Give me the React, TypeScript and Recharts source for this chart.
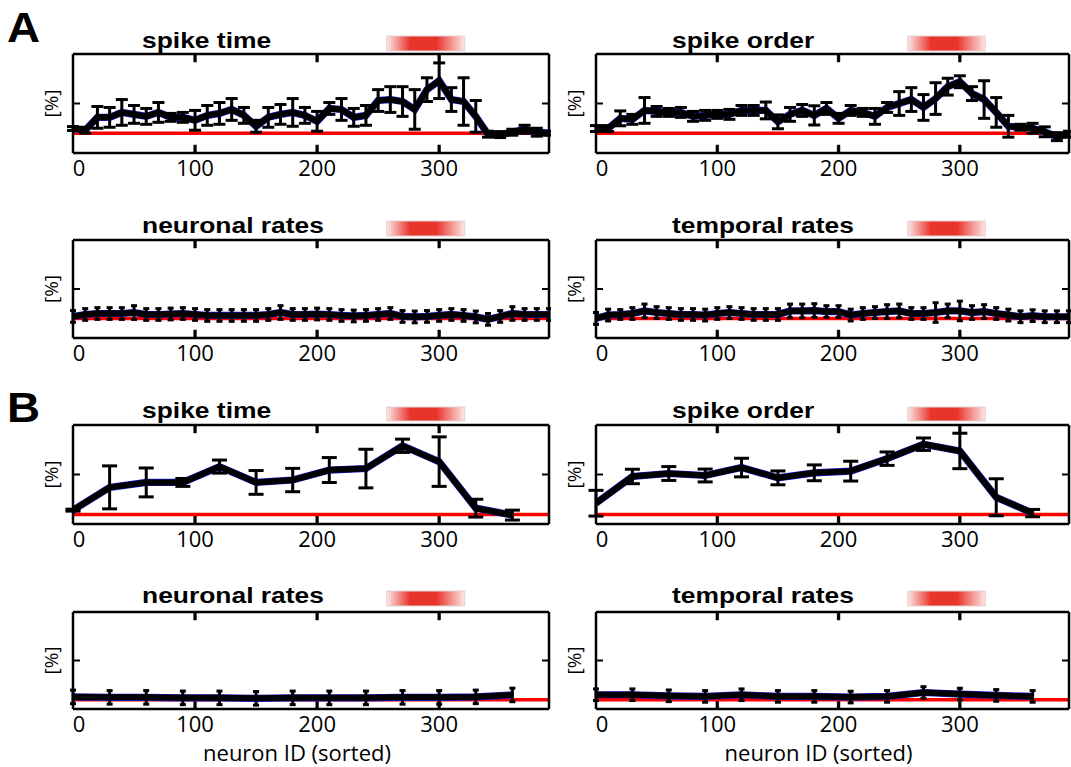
import React from 'react';
import { LineChart, Line, XAxis, YAxis, ErrorBar, ReferenceLine, ReferenceArea } from 'recharts';

// neuron IDs (sorted) where the curves are sampled
const idsA = [0, 10, 20, 30, 40, 50, 60, 70, 80, 90, 100, 110, 120, 130, 140, 150, 160, 170, 180, 190,
  200, 210, 220, 230, 240, 250, 260, 270, 280, 290, 300, 310, 320, 330, 340, 350, 360, 370, 380, 390];
const idsB = [0, 30, 60, 90, 120, 150, 180, 210, 240, 270, 300, 330, 360];

// A: spike time
const aSpikeTime = [24.7, 23, 36, 36, 41, 39, 37, 41, 36, 36, 33, 38, 40, 44, 38, 27, 36, 39, 41, 38,
  32, 45, 44, 36, 38, 53, 54, 52, 44, 64, 73, 54, 52, 37, 19, 18.6, 21, 24, 21, 20];
const aSpikeTimeErr = [2, 3, 11, 10, 13, 9, 8, 10, 4, 5, 10, 10, 11, 11, 8, 6, 10, 10, 14, 8,
  10, 6, 11, 9, 10, 11, 13, 15, 20, 12, 18, 12, 24, 16, 3, 3, 3, 4, 4, 2];

// A: spike order
const aSpikeOrder = [24.7, 24.7, 35, 34, 43, 42, 41, 41, 37, 38, 39, 39, 43, 43, 43, 31.5, 39, 43, 38, 45,
  35, 43, 41, 37, 46, 50, 54, 46, 55, 67, 72, 60, 54, 41, 27, 26, 25, 21.4, 16.5, 19];
const aSpikeOrderErr = [3, 3, 7.5, 5, 13, 5, 4, 5, 5, 5, 4, 5, 5, 5, 8.5, 7, 7, 6, 9.7, 6,
  5, 5, 4, 8, 5, 12, 12, 13, 16, 8.5, 6, 7, 19, 15, 11, 3, 5, 5, 4, 3];

// A: neuronal rates
const aNeuronal = [22, 24, 25, 25, 25, 26, 24, 24, 24.5, 25, 24, 23, 23, 23, 23, 23, 24, 26, 24, 24,
  24.5, 24, 23, 22.5, 23, 24, 25, 22, 21.5, 22, 23, 24, 23, 21.5, 19, 22, 25, 24, 24, 24];
const aNeuronalErr = [6, 6, 6, 6, 6, 7, 6, 6, 6, 6, 6, 6, 6, 6, 6, 6, 6, 7, 6, 6,
  6, 6, 6, 6, 6, 6, 6, 6, 6, 6, 6, 6, 6, 6, 6, 6, 7, 6, 6, 6];

// A: temporal rates
const aTemporal = [20, 23.4, 24, 25, 27.6, 26, 25, 24, 24, 23.4, 25, 26, 25, 24, 24, 24, 27.6, 27.6, 28, 27,
  27, 23.4, 25, 26, 27, 27.6, 25, 25, 26, 27.6, 27.6, 26, 27, 25, 23.4, 21.7, 22.8, 21.7, 21.7, 21.7];
const aTemporalErr = [6, 6, 5, 6, 7, 6, 6, 6, 6, 6, 6, 6, 6, 6, 6, 6, 7, 7, 7, 6,
  6, 6, 6, 6, 7, 7, 6, 6, 10, 7, 10, 7, 7, 6, 6, 6, 6, 6, 6, 6];

// B: spike time
const bSpikeTime = [14, 37, 42, 42, 58, 42, 44.4, 54.5, 56, 79, 63, 16, 9];
const bSpikeTimeErr = [1, 21.7, 14.6, 4, 6.6, 12, 11.8, 12.6, 19.5, 6.7, 25, 9, 5];

// B: spike order
const bSpikeOrder = [21, 48, 51, 49, 57, 46.6, 51.7, 53.4, 66, 80.6, 73.8, 27, 11];
const bSpikeOrderErr = [13, 7.3, 7, 6.5, 9.4, 7, 8, 10, 6.8, 6.3, 17.9, 18.7, 3.7];

// B: neuronal rates
const bNeuronal = [12.5, 12, 12, 11.5, 11.5, 11, 11.5, 11.5, 11.5, 12, 12, 12.5, 14.5];
const bNeuronalErr = [7, 7, 7, 7, 7, 7, 7, 7, 7, 7, 7, 7, 7];

// B: temporal rates
const bTemporal = [14.7, 14.7, 13.6, 13, 14.7, 13, 13, 12.3, 13, 17, 15.4, 14, 13];
const bTemporalErr = [6, 6, 6, 6, 6, 6, 6, 6, 6, 6, 6, 6, 6];

const chanceA = 20;
const chanceB = 9.5;
const stimWindow = [257, 321];
const xTicks = [0, 100, 200, 300];
const xTicksInner = [100, 200, 300];
const yTicks = [50];

const AXIS_W = 40;
const MT = 25; // + 1px top axis band
const MR = 1; // + 1px right axis band
const TICK_LEN = 8;
const TICK_HALF = 1.1; // half tick thickness, in x units

const colLeft = [73, 596];
const colWidth = [476, 473];
const titleLeft = [142, 672];
const rows = [
  { top: 54, h: 99, bar: [3, 18], titleTop: 30 },
  { top: 240, h: 98, bar: [4, 19], titleTop: 215 },
  { top: 425, h: 99, bar: [4, 18], titleTop: 400 },
  { top: 612, h: 97, bar: [6, 21], titleTop: 585 },
];

const renderTick = (p: any) => (
  <text
    x={p.x + (p.payload.value === 0 ? 6 : 0)}
    y={p.y}
    dy="0.71em"
    textAnchor="middle"
    fontFamily="'Open Sans'"
    fontSize={22}
    fill="#000"
  >
    {p.payload.value}
  </text>
);
const noLabel = () => <g />;

const frame = { stroke: '#000', strokeWidth: 2.5 };
const tickStroke = { stroke: '#000', strokeWidth: 2 };

type PanelProps = {
  id: string;
  title: string;
  col: number;
  row: number;
  ids: number[];
  values: number[];
  errors: number[];
  chance: number;
  cap: number;
  xLabel?: boolean;
};

const Panel: React.FC<PanelProps> = ({ id, title, col, row, ids, values, errors, chance, cap, xLabel }) => {
  const r = rows[row];
  const plotW = colWidth[col];
  const xAxisH = xLabel ? 64 : 34;
  const width = AXIS_W + plotW + 1 + MR;
  const height = MT + 1 + r.h + xAxisH;
  const data = ids.map((n, i) => ({ id: n, v: values[i], e: errors[i] }));
  const unit = 100 / r.h;

  return (
    <>
      <div style={{ position: 'absolute', left: colLeft[col] - AXIS_W, top: r.top - MT - 1 }}>
        <LineChart width={width} height={height} data={data} margin={{ top: MT, right: MR, left: 0, bottom: 0 }}>
          <defs>
            <linearGradient id={id} x1="0" y1="0" x2="1" y2="0">
              <stop offset="0%" stopColor="#e8352b" stopOpacity={0.12} />
              <stop offset="30%" stopColor="#e8352b" stopOpacity={1} />
              <stop offset="64%" stopColor="#e8352b" stopOpacity={1} />
              <stop offset="100%" stopColor="#e8352b" stopOpacity={0.12} />
            </linearGradient>
          </defs>
          <XAxis
            xAxisId="b"
            dataKey="id"
            type="number"
            domain={[0, 390]}
            allowDataOverflow
            ticks={xTicks}
            interval={0}
            tickSize={-7}
            tickMargin={14.5}
            height={xAxisH}
            axisLine={frame}
            tickLine={tickStroke}
            tick={renderTick}
            label={
              xLabel
                ? { value: 'neuron ID (sorted)', position: 'insideBottom', offset: 12, dx: -14, fontFamily: "'Open Sans'", fontSize: 22, fill: '#000' }
                : undefined
            }
          />
          <XAxis
            xAxisId="t"
            dataKey="id"
            orientation="top"
            type="number"
            domain={[0, 390]}
            allowDataOverflow
            ticks={xTicksInner}
            interval={0}
            tickSize={-7}
            height={1}
            tick={noLabel}
            axisLine={frame}
            tickLine={tickStroke}
          />
          <YAxis
            yAxisId="l"
            type="number"
            domain={[0, 100]}
            allowDataOverflow
            ticks={yTicks}
            interval={0}
            tickSize={-7}
            width={AXIS_W}
            tick={noLabel}
            axisLine={frame}
            tickLine={tickStroke}
            label={{ value: '[%]', angle: -90, position: 'center', dx: -2, fontFamily: "'Open Sans'", fontSize: 19, fill: '#000' }}
          />
          <YAxis
            yAxisId="r"
            orientation="right"
            type="number"
            domain={[0, 100]}
            allowDataOverflow
            ticks={yTicks}
            interval={0}
            tickSize={-7}
            width={1}
            tick={noLabel}
            axisLine={frame}
            tickLine={tickStroke}
          />
          {/* inward x ticks on the bottom and top frame */}
          {xTicksInner.map((t) => (
            <ReferenceArea
              key={`b${t}`}
              xAxisId="b"
              yAxisId="l"
              x1={t - TICK_HALF}
              x2={t + TICK_HALF}
              y1={0}
              y2={TICK_LEN * unit}
              ifOverflow="visible"
              fill="#000"
              fillOpacity={1}
              stroke="#000"
              strokeWidth={0.5}
            />
          ))}
          {xTicksInner.map((t) => (
            <ReferenceArea
              key={`t${t}`}
              xAxisId="b"
              yAxisId="l"
              x1={t - TICK_HALF}
              x2={t + TICK_HALF}
              y1={100 - TICK_LEN * unit}
              y2={100}
              ifOverflow="visible"
              fill="#000"
              fillOpacity={1}
              stroke="#000"
              strokeWidth={0.5}
            />
          ))}
          <ReferenceLine xAxisId="b" yAxisId="l" y={chance} stroke="#ff0000" strokeWidth={3.5} />
          <Line xAxisId="t" yAxisId="r" dataKey="v" stroke="#1a1acc" strokeWidth={7.2} dot={false} isAnimationActive={false} />
          <Line xAxisId="b" yAxisId="l" dataKey="v" stroke="#000" strokeWidth={6} dot={false} isAnimationActive={false}>
            <ErrorBar dataKey="e" direction="y" width={cap} stroke="#000" strokeWidth={3} isAnimationActive={false} />
          </Line>
          <ReferenceArea
            xAxisId="b"
            yAxisId="l"
            x1={stimWindow[0]}
            x2={stimWindow[1]}
            y1={100 + r.bar[0] * unit}
            y2={100 + r.bar[1] * unit}
            ifOverflow="visible"
            fill={`url(#${id})`}
            fillOpacity={1}
            stroke="#e3d3d3"
            strokeWidth={1}
          />
        </LineChart>
      </div>
      <div
        style={{
          position: 'absolute',
          left: titleLeft[col],
          top: r.titleTop,
          fontFamily: "'Liberation Sans', Arial, sans-serif",
          fontWeight: 'bold',
          fontSize: 22,
          lineHeight: '22px',
          whiteSpace: 'nowrap',
          transform: 'scaleX(1.2)',
          transformOrigin: 'left top',
          color: '#000',
        }}
      >
        {title}
      </div>
    </>
  );
};

const letterStyle: React.CSSProperties = {
  position: 'absolute',
  left: 7,
  fontFamily: "'Liberation Sans', Arial, sans-serif",
  fontWeight: 'bold',
  fontSize: 42,
  lineHeight: '42px',
  transform: 'scaleX(1.09)',
  transformOrigin: 'left top',
  color: '#000',
};

export default function App() {
  return (
    <div style={{ position: 'absolute', left: 0, top: 0, width: 1071, height: 767, background: '#fff', overflow: 'hidden' }}>
      <div style={{ ...letterStyle, top: 7 }}>A</div>
      <div style={{ ...letterStyle, top: 387 }}>B</div>

      <Panel id="g1" title="spike time" col={0} row={0} ids={idsA} values={aSpikeTime} errors={aSpikeTimeErr} chance={chanceA} cap={6} />
      <Panel id="g2" title="spike order" col={1} row={0} ids={idsA} values={aSpikeOrder} errors={aSpikeOrderErr} chance={chanceA} cap={6} />
      <Panel id="g3" title="neuronal rates" col={0} row={1} ids={idsA} values={aNeuronal} errors={aNeuronalErr} chance={chanceA} cap={3} />
      <Panel id="g4" title="temporal rates" col={1} row={1} ids={idsA} values={aTemporal} errors={aTemporalErr} chance={chanceA} cap={3} />

      <Panel id="g5" title="spike time" col={0} row={2} ids={idsB} values={bSpikeTime} errors={bSpikeTimeErr} chance={chanceB} cap={7.5} />
      <Panel id="g6" title="spike order" col={1} row={2} ids={idsB} values={bSpikeOrder} errors={bSpikeOrderErr} chance={chanceB} cap={7.5} />
      <Panel id="g7" title="neuronal rates" col={0} row={3} ids={idsB} values={bNeuronal} errors={bNeuronalErr} chance={chanceB} cap={3} xLabel />
      <Panel id="g8" title="temporal rates" col={1} row={3} ids={idsB} values={bTemporal} errors={bTemporalErr} chance={chanceB} cap={3} xLabel />
    </div>
  );
}
